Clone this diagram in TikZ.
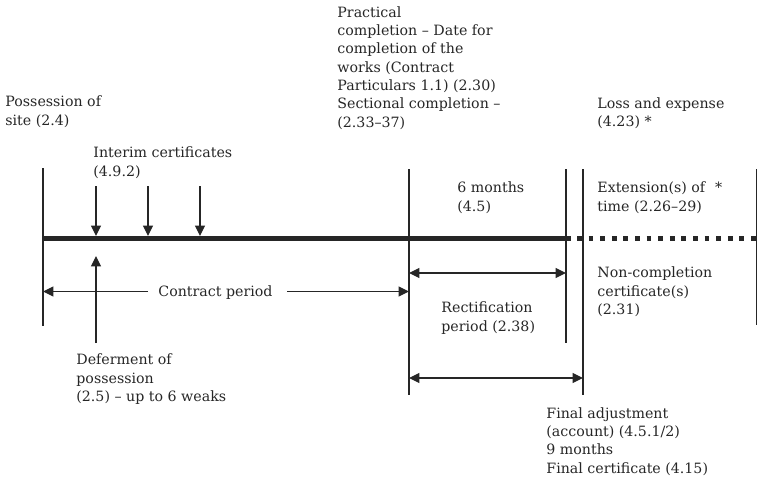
\documentclass[tikz,border=0pt]{standalone}
\usepackage{fontspec}
\setmainfont{DejaVu Serif}
\usetikzlibrary{arrows.meta}
\colorlet{ink}{black!85}
\newcommand{\tlfont}{\fontsize{7.1}{9.15}\selectfont}

\begin{document}
\begin{tikzpicture}[x=0.5pt,y=-0.5pt,
  lbl/.style={anchor=base west,align=left,inner sep=0pt,font=\tlfont,text=ink},
  tline/.style={draw=ink,line width=0.6pt},
  tip/.style={-{Triangle[length=5.2pt,width=5pt]}},
  both/.style={{Triangle[length=5.2pt,width=5pt]}-{Triangle[length=5.2pt,width=5pt]}}]
\useasboundingbox (0,0) rectangle (758,477);

% key dates on the time line
\coordinate (t0) at (43,238.5);   % possession
\coordinate (t1) at (409,238.5);  % practical completion
\coordinate (t2) at (566,238.5);  % end of rectification
\coordinate (t3) at (583,238.5);  % final certificate
\coordinate (t4) at (756.5,238.5);

% time line
\draw[ink,line width=2.5pt] (t0) -- (571,238.5);
\draw[ink,line width=2.5pt,dash pattern=on 2.4pt off 3.4pt] (577,238.5) -- (t4);

% verticals
\draw[tline] (43,168) -- (43,326);
\draw[tline] (409,169) -- (409,395);
\draw[tline] (566,169) -- (566,343);
\draw[tline] (583,169) -- (583,395);
\draw[tline] (756.5,169) -- (756.5,325);

% labels (placed by the baseline of their last line)
\node[lbl] (possn) at (5,125) {Possession of\\site (2.4)};
\node[lbl] (practical) at (337,127) {Practical\\completion -- Date for\\completion of the\\works (Contract\\Particulars 1.1) (2.30)\\Sectional completion --\\(2.33--37)};
\node[lbl] (loss) at (597,126.5) {Loss and expense\\(4.23) *};
\node[lbl] (interim) at (93,176) {Interim certificates\\(4.9.2)};
\node[lbl] (sixm) at (457,211) {6 months\\(4.5)};
\node[lbl] (ext) at (597,211) {Extension(s) of\hspace{5pt}*\\time (2.26--29)};
\node[lbl] (noncomp) at (597,314.5) {Non-completion\\certificate(s)\\(2.31)};
\node[lbl] (rect) at (441,331) {Rectification\\period (2.38)};
\node[lbl] (contract) at (158,296) {Contract period};
\node[lbl] (defer) at (76,401.5) {Deferment of\\possession\\(2.5) -- up to 6 weaks};
\node[lbl] (final) at (546,473) {Final adjustment\\(account) (4.5.1/2)\\9 months\\Final certificate (4.15)};

% interim certificates and deferment
\foreach \x in {96,148,200}
    \draw[tline,tip] (\x,186) -- (\x,236);
\draw[tline,tip] (96,343) -- (96,256);

% periods
\draw[tline,tip] (148,291.5) -- (t0 |- 0,291.5);
\draw[tline,tip] (287,291.5) -- (t1 |- 0,291.5);
\draw[tline,both] (t1 |- 0,273) -- (t2 |- 0,273);
\draw[tline,both] (t1 |- 0,378) -- (t3 |- 0,378);
\end{tikzpicture}
\end{document}
